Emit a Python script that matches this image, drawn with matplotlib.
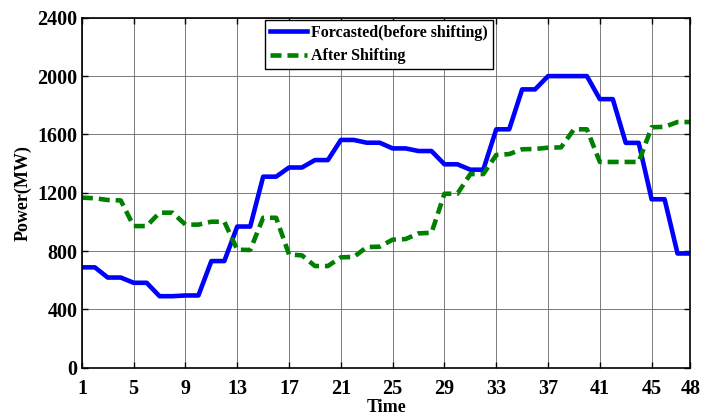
import matplotlib
matplotlib.use("Agg")
import matplotlib.pyplot as plt

plt.rcParams['font.family'] = ['Liberation Serif', 'DejaVu Serif']
plt.rcParams['font.weight'] = 'bold'

# Hourly load profile (48 half-hour slots)
time = list(range(1, 49))
forecasted = [688, 688, 618, 618, 582, 582, 490, 490, 495, 495,
              731, 731, 968, 968, 1310, 1310, 1373, 1373, 1424, 1424,
              1562, 1562, 1543, 1543, 1504, 1504, 1486, 1486, 1395, 1395,
              1358, 1358, 1635, 1635, 1909, 1909, 2000, 2000, 2000, 2000,
              1842, 1842, 1542, 1542, 1155, 1155, 783, 783]
after_shift = [1166, 1162, 1150, 1147, 971, 971, 1063, 1063, 981, 981,
               1001, 1001, 809, 807, 1028, 1028, 776, 770, 697, 697,
               757, 759, 827, 830, 878, 882, 921, 925, 1193, 1193,
               1328, 1328, 1459, 1465, 1498, 1500, 1509, 1511, 1635, 1635,
               1411, 1411, 1411, 1411, 1649, 1652, 1685, 1685]

x_ticks = [1, 5, 9, 13, 17, 21, 25, 29, 33, 37, 41, 45, 48]
y_ticks = [0, 400, 800, 1200, 1600, 2000, 2400]

fig = plt.figure(figsize=(7.01, 4.16), dpi=100)
ax = fig.add_axes([0.1168, 0.1163, 0.8682, 0.8409])

ax.plot(time, forecasted, color=(0, 0, 1), lw=3.3, label='Forcasted(before shifting)')
ax.plot(time, after_shift, color=(0, 0.5, 0), lw=3.3, dashes=(2.4, 1.3),
        label='After Shifting')

ax.set_xlim(1, 48)
ax.set_ylim(0, 2400)
ax.set_xticks(x_ticks)
ax.set_yticks(y_ticks)
ax.grid(True, color='#666666', lw=0.6)
ax.set_axisbelow(True)

ax.tick_params(axis='both', direction='in', top=True, right=True, length=4,
               width=1, labelsize=14.5)
ax.tick_params(axis='x', pad=8)
ax.tick_params(axis='y', pad=3)
for lbl in ax.get_xticklabels() + ax.get_yticklabels():
    lbl.set_fontweight('bold')
for sp in ax.spines.values():
    sp.set_linewidth(1.2)

ax.set_xlabel('Time', fontsize=13, fontweight='bold', labelpad=0)
ax.set_ylabel('Power(MW)', fontsize=13, fontweight='bold', labelpad=4)

leg = ax.legend(loc='upper left', bbox_to_anchor=(0.301, 0.993), fontsize=11.5,
                frameon=True, fancybox=False, handlelength=2.3,
                borderpad=0.3, labelspacing=0.45, handletextpad=0.3,
                borderaxespad=0)
leg.get_frame().set_edgecolor('black')
leg.get_frame().set_linewidth(1.0)
leg.get_frame().set_alpha(1)
for t in leg.get_texts():
    t.set_fontweight('bold')

fig.savefig('out.png', dpi=100)
